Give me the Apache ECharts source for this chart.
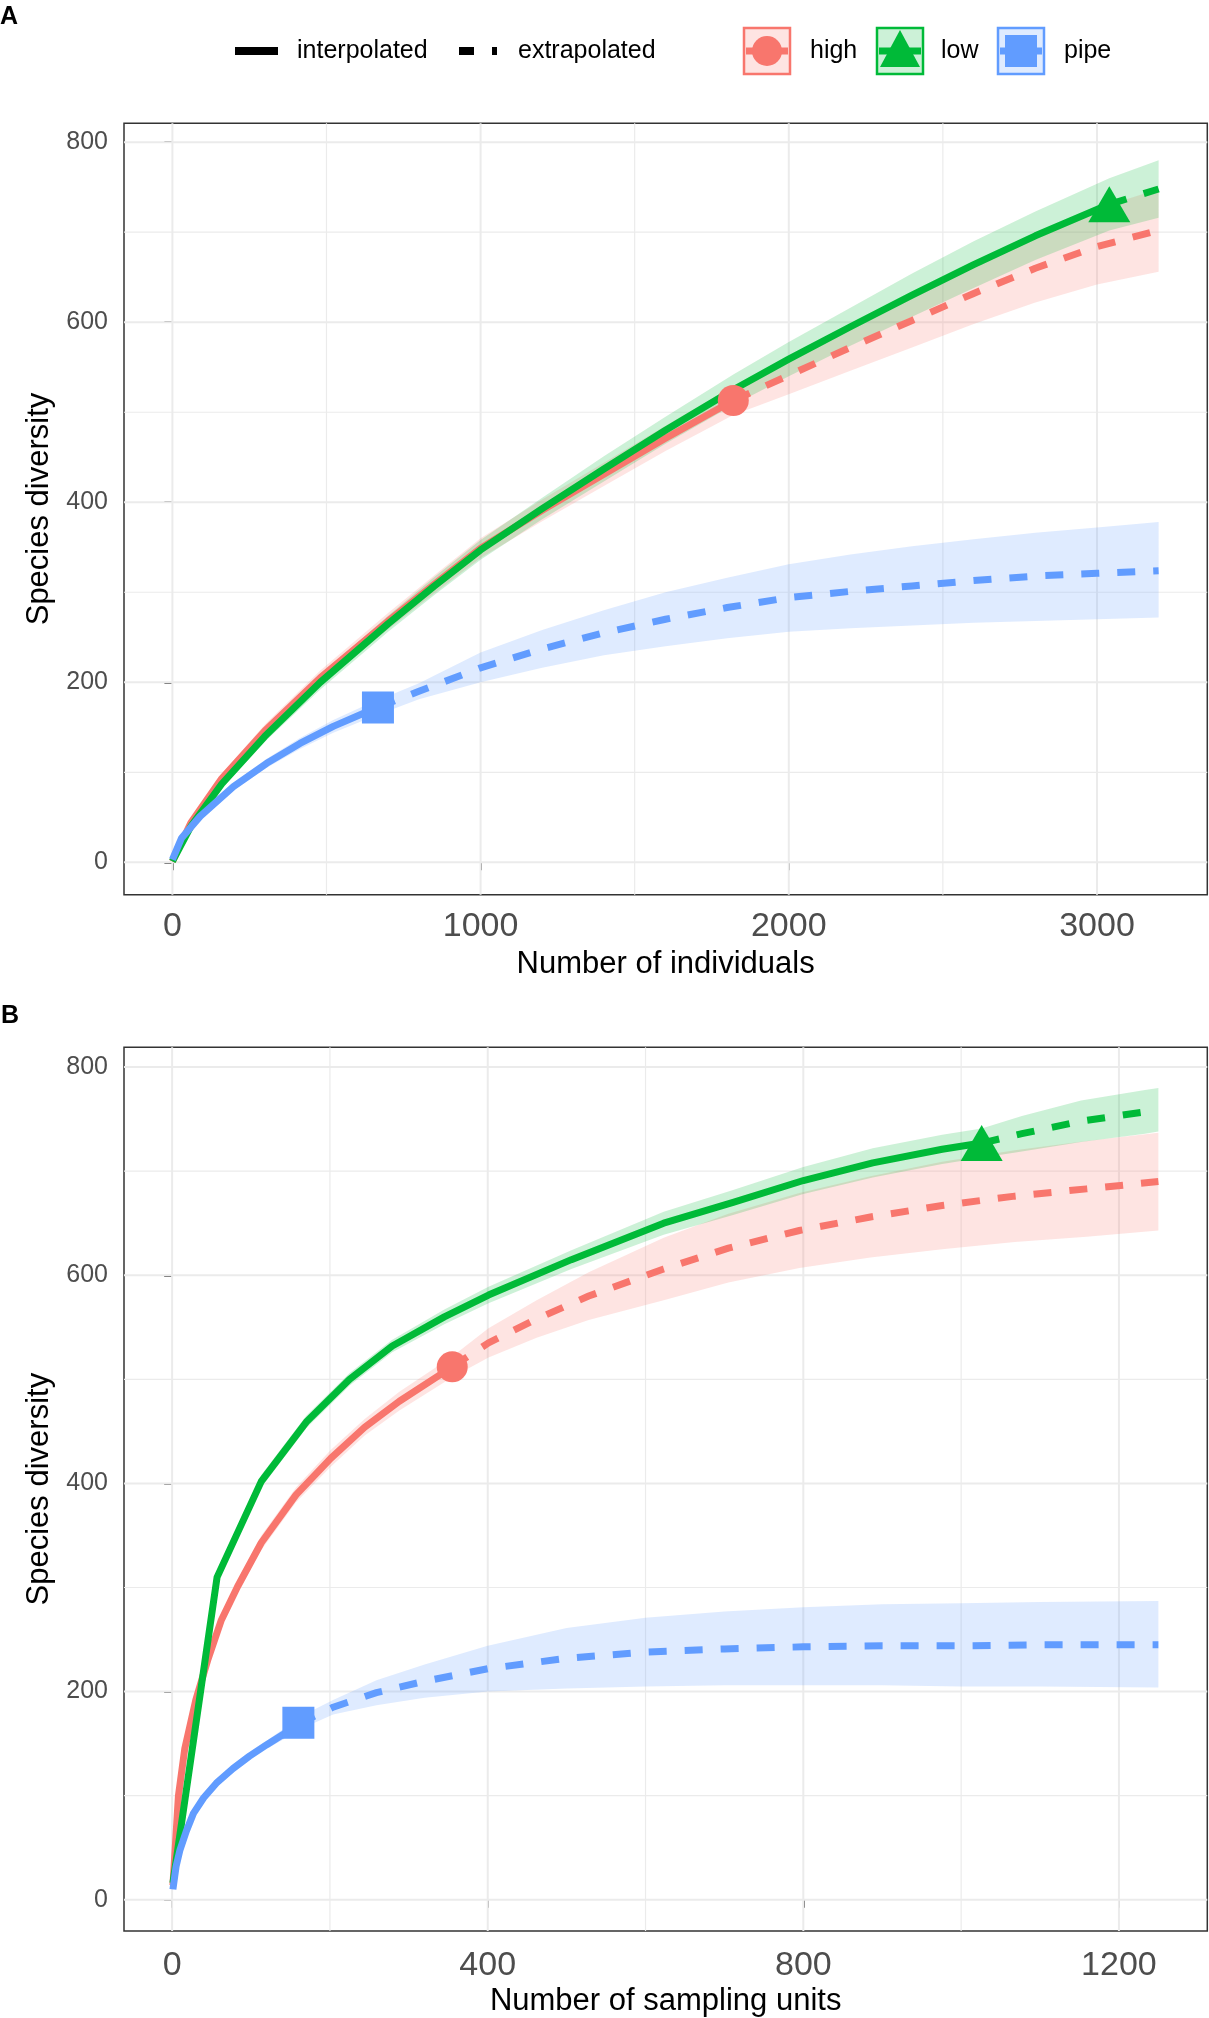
<!DOCTYPE html>
<html>
<head>
<meta charset="utf-8">
<title>Species diversity curves</title>
<script src="https://cdn.jsdelivr.net/npm/echarts@6/dist/echarts.min.js"></script>
<style>
  html, body { margin: 0; padding: 0; background: #fff; }
  #chart { width: 1209px; height: 2018px; }
</style>
</head>
<body>
<div id="chart"></div>
<script>
// tick values
let xTicksA = [0, 1000, 2000, 3000];
let xMinorA = [500, 1500, 2500];
let xTicksB = [0, 400, 800, 1200];
let xMinorB = [200, 600, 1000];
let yTicks = [0, 200, 400, 600, 800];
let yMinor = [100, 300, 500, 700];

// panel A - number of individuals
let highInterpA = [[0,1],[60,44],[160,93],[300,146],[480,205],[700,268],[850,309],[1000,349],[1200,391],[1400,431],[1600,471],[1820,513]];
let highExtrapA = [[1820,513],[2000,541],[2200,572],[2400,602],[2600,632],[2800,660],[3000,684],[3200,702]];
let highBandXA = [0,60,160,300,480,700,850,1000,1200,1400,1600,1820,2000,2200,2400,2600,2800,3000,3200];
let highLoA = [1,41,88,139,197,259,299,338,379,418,457,497,520,546,572,598,622,642,656];
let highHiA = [1,47,98,153,213,277,319,360,403,444,485,529,562,598,632,666,698,726,748];

let lowInterpA = [[0,1],[60,40],[160,87],[300,140],[480,200],[700,265],[850,307],[1000,347],[1200,393],[1400,437],[1600,480],[1820,525],[2000,559],[2200,595],[2400,630],[2600,664],[2800,696],[3040,731]];
let lowExtrapA = [[3040,731],[3200,748]];
let lowBandXA = [0,60,160,300,480,700,850,1000,1200,1400,1600,1820,2000,2200,2400,2600,2800,3040,3200];
let lowLoA = [1,37,82,134,192,256,297,336,381,423,465,508,540,574,606,638,669,702,716];
let lowHiA = [1,43,92,146,208,274,317,358,405,451,495,542,578,616,654,690,723,760,780];

let pipeInterpA = [[0,3],[30,27],[90,51],[198,84],[306,110],[414,132],[522,151],[630,167],[667,172]];
let pipeExtrapA = [[667,172],[800,190],[1000,216],[1200,237],[1400,255],[1600,270],[1800,283],[2000,294],[2200,301],[2400,307],[2600,313],[2800,318],[3000,321],[3200,324]];
let pipeBandXA = [0,30,90,198,306,414,522,630,667,800,1000,1200,1400,1600,1800,2000,2200,2400,2600,2800,3000,3200];
let pipeLoA = [3,25,48,80,105,126,144,159,164,181,200,216,230,240,249,256,260,263,266,268,270,272];
let pipeHiA = [3,29,54,88,115,138,158,175,180,199,233,258,280,300,316,331,342,351,359,366,372,378];

let highRefA = [[1820,513]];
let lowRefA = [[3040,731]];
let pipeRefA = [[667,172]];

// panel B - number of sampling units
let highInterpB = [[1,14],[8,100],[16,145],[30,192],[45,230],[62,268],[83,301],[113,343],[157,389],[201,424],[244,454],[288,479],[355,512]];
let highExtrapB = [[355,512],[401,535],[462,558],[528,580],[623,606],[705,626],[795,643],[885,656],[976,667],[1068,676],[1159,683],[1250,690]];
let highBandXB = [1,8,16,30,45,62,83,113,157,201,244,288,355,401,462,528,623,705,795,885,976,1068,1159,1250];
let highLoB = [14,97,141,187,225,262,295,336,382,416,446,470,502,521,540,557,576,593,607,617,625,632,637,643];
let highHiB = [14,103,149,197,235,274,307,350,396,432,462,488,522,549,576,603,636,659,679,695,709,720,729,737];

let lowInterpB = [[1,16],[57,310],[113,402],[170,459],[225,500],[279,532],[345,560],[401,581],[506,615],[623,650],[711,670],[800,691],[888,708],[976,721],[1026,727]];
let lowExtrapB = [[1026,727],[1077,736],[1152,748],[1233,757],[1250,759]];
let lowBandXB = [1,57,113,170,225,279,345,401,506,623,711,800,888,976,1026,1077,1152,1233,1250];
let lowLoB = [15,304,396,453,494,526,553,573,606,639,658,678,694,707,713,719,728,736,738];
let lowHiB = [17,316,408,465,506,538,567,589,624,661,682,704,722,735,741,753,768,778,780];

let pipeInterpB = [[1,10],[5,32],[10,48],[18,66],[27,83],[40,98],[56,112],[77,126],[98,138],[120,149],[141,159],[160,169]];
let pipeExtrapB = [[160,169],[204,185],[259,199],[320,210],[400,222],[500,232],[600,238],[700,241],[800,243],[900,244],[1000,244],[1100,245],[1250,245]];
let pipeBandXB = [1,5,10,18,27,40,56,77,98,120,141,160,204,259,320,400,500,600,700,800,900,1000,1100,1250];
let pipeLoB = [9,30,46,63,80,95,109,122,134,145,154,163,178,187,194,200,203,205,206,206,206,205,205,204];
let pipeHiB = [11,34,50,69,86,101,115,130,142,153,164,175,192,211,226,244,261,271,277,281,284,285,286,287];

let highRefB = [[355,512]];
let lowRefB = [[1026,727]];
let pipeRefB = [[160,170]];

const RED = '#F8766D', GREEN = '#00BA38', BLUE = '#619CFF';
const RED_F = 'rgba(248,118,109,0.2)', GREEN_F = 'rgba(0,186,56,0.2)', BLUE_F = 'rgba(97,156,255,0.2)';
const FONT = '"Liberation Sans", Arial, Helvetica, sans-serif';

// axis limits (ggplot expanded ranges)
const limA = {x: [-157, 3358], y: [-36, 821]};
const limB = {x: [-61, 1312], y: [-30, 819]};

function gridLines(vals, dir, idx, lo, hi, width) {
    return vals.map(function (v) {
        return {
            type: 'line', xAxisIndex: idx, yAxisIndex: idx, silent: true, z: 1,
            symbol: 'none', animation: false,
            lineStyle: {color: '#ebebeb', width: width},
            data: dir === 'v' ? [[v, lo], [v, hi]] : [[lo, v], [hi, v]]
        };
    });
}

function curve(data, color, dashed, idx) {
    return {
        type: 'line', xAxisIndex: idx, yAxisIndex: idx, z: 2, silent: true,
        symbol: 'none', animation: false, data: data,
        lineStyle: {color: color, width: 7, type: dashed ? [18, 18] : 'solid', cap: 'butt', join: 'round'}
    };
}

function band(xs, lo, hi, color, idx) {
    return {
        type: 'custom', xAxisIndex: idx, yAxisIndex: idx, z: 2, silent: true, animation: false,
        data: xs.map(function (x, i) { return [x, lo[i], hi[i]]; }),
        encode: {x: 0, y: [1, 2]},
        renderItem: function (params, api) {
            if (params.dataIndex !== 0) return null;
            let pts = [];
            for (let i = 0; i < xs.length; i++) pts.push(api.coord([xs[i], hi[i]]));
            for (let i = xs.length - 1; i >= 0; i--) pts.push(api.coord([xs[i], lo[i]]));
            return {type: 'polygon', shape: {points: pts}, style: {fill: color}};
        }
    };
}

function ref(data, color, symbol, size, idx) {
    return {
        type: 'scatter', xAxisIndex: idx, yAxisIndex: idx, z: 2, silent: true, animation: false,
        symbol: symbol, symbolSize: size, data: data,
        itemStyle: {color: color, opacity: 1}
    };
}

function plain(v) { return String(v); }

function xAxisOf(idx, lim, ticks, name, labelMargin, nameGap) {
    return {
        gridIndex: idx, type: 'value', min: lim[0], max: lim[1],
        axisLine: {show: false}, splitLine: {show: false},
        axisTick: {show: true, customValues: ticks, length: 8, lineStyle: {color: '#333', width: 1.5}},
        axisLabel: {customValues: ticks, formatter: plain, color: '#4d4d4d', fontSize: 34, fontFamily: FONT, margin: labelMargin},
        name: name, nameLocation: 'middle', nameGap: nameGap,
        nameTextStyle: {color: '#000', fontSize: 31, fontFamily: FONT}
    };
}

function yAxisOf(idx, lim) {
    return {
        gridIndex: idx, type: 'value', min: lim[0], max: lim[1],
        axisLine: {show: false}, splitLine: {show: false},
        axisTick: {show: true, customValues: yTicks, length: 8, lineStyle: {color: '#333', width: 1.5}},
        axisLabel: {customValues: yTicks, formatter: plain, color: '#4d4d4d', fontSize: 25, fontFamily: FONT, margin: 16},
        name: 'Species diversity', nameLocation: 'middle', nameGap: 56, nameRotate: 90,
        nameTextStyle: {color: '#000', fontSize: 31, fontFamily: FONT}
    };
}

// legend keys
function keyBox(cx, cy, color, fill, shape) {
    let items = [
        {type: 'rect', shape: {x: cx - 23, y: cy - 23, width: 46, height: 46}, style: {fill: fill, stroke: color, lineWidth: 2.5}},
        {type: 'line', shape: {x1: cx - 21, y1: cy, x2: cx + 21, y2: cy}, style: {stroke: color, lineWidth: 7}}
    ];
    if (shape === 'circle') items.push({type: 'circle', shape: {cx: cx, cy: cy, r: 15}, style: {fill: color}});
    if (shape === 'triangle') items.push({type: 'polygon', shape: {points: [[cx, cy - 21], [cx - 20, cy + 16], [cx + 20, cy + 16]]}, style: {fill: color}});
    if (shape === 'rect') items.push({type: 'rect', shape: {x: cx - 16, y: cy - 16, width: 32, height: 32}, style: {fill: color}});
    return items;
}

function label(x, y, txt, size, bold) {
    return {
        type: 'text', x: x, y: y,
        style: {text: txt, fill: '#000', font: (bold ? 'bold ' : '') + size + 'px ' + FONT, textVerticalAlign: 'middle', textAlign: 'left'}
    };
}

let legendY = 51;
let graphics = [
    label(0, 17, 'A', 25, true),
    label(1, 1016, 'B', 25, true),
    {type: 'line', shape: {x1: 235, y1: legendY, x2: 278, y2: legendY}, style: {stroke: '#000', lineWidth: 8}},
    label(297, legendY, 'interpolated', 25, false),
    {type: 'line', shape: {x1: 459, y1: legendY, x2: 497, y2: legendY}, style: {stroke: '#000', lineWidth: 8, lineDash: [15, 18]}},
    label(518, legendY, 'extrapolated', 25, false),
    label(810, legendY, 'high', 25, false),
    label(941, legendY, 'low', 25, false),
    label(1064, legendY, 'pipe', 25, false)
].concat(keyBox(767, legendY, RED, RED_F, 'circle'))
 .concat(keyBox(900, legendY, GREEN, GREEN_F, 'triangle'))
 .concat(keyBox(1021, legendY, BLUE, BLUE_F, 'rect'));

let series = [].concat(
    gridLines(xMinorA, 'v', 0, limA.y[0], limA.y[1], 1.2),
    gridLines(yMinor, 'h', 0, limA.x[0], limA.x[1], 1.2),
    gridLines(xTicksA, 'v', 0, limA.y[0], limA.y[1], 2),
    gridLines(yTicks, 'h', 0, limA.x[0], limA.x[1], 2),
    gridLines(xMinorB, 'v', 1, limB.y[0], limB.y[1], 1.2),
    gridLines(yMinor, 'h', 1, limB.x[0], limB.x[1], 1.2),
    gridLines(xTicksB, 'v', 1, limB.y[0], limB.y[1], 2),
    gridLines(yTicks, 'h', 1, limB.x[0], limB.x[1], 2),
    [
        ref(highRefA, RED, 'circle', 31, 0),
        ref(lowRefA, GREEN, 'triangle', [42, 36], 0),
        ref(pipeRefA, BLUE, 'rect', 32, 0),
        curve(highInterpA, RED, false, 0),
        curve(highExtrapA, RED, true, 0),
        curve(lowInterpA, GREEN, false, 0),
        curve(lowExtrapA, GREEN, true, 0),
        curve(pipeInterpA, BLUE, false, 0),
        curve(pipeExtrapA, BLUE, true, 0),
        band(highBandXA, highLoA, highHiA, RED_F, 0),
        band(lowBandXA, lowLoA, lowHiA, GREEN_F, 0),
        band(pipeBandXA, pipeLoA, pipeHiA, BLUE_F, 0),

        ref(highRefB, RED, 'circle', 31, 1),
        ref(lowRefB, GREEN, 'triangle', [42, 36], 1),
        ref(pipeRefB, BLUE, 'rect', 32, 1),
        curve(highInterpB, RED, false, 1),
        curve(highExtrapB, RED, true, 1),
        curve(lowInterpB, GREEN, false, 1),
        curve(lowExtrapB, GREEN, true, 1),
        curve(pipeInterpB, BLUE, false, 1),
        curve(pipeExtrapB, BLUE, true, 1),
        band(highBandXB, highLoB, highHiB, RED_F, 1),
        band(lowBandXB, lowLoB, lowHiB, GREEN_F, 1),
        band(pipeBandXB, pipeLoB, pipeHiB, BLUE_F, 1)
    ]
);

let myChart = echarts.init(document.getElementById('chart'), null, {renderer: 'canvas'});
let option = {
    backgroundColor: '#fff',
    animation: false,
    textStyle: {fontFamily: FONT},
    grid: [
        {left: 124, top: 123.3, width: 1083.3, height: 771.4, show: true, borderColor: '#333', borderWidth: 1.5, backgroundColor: '#fff'},
        {left: 124, top: 1047.3, width: 1083.3, height: 885, show: true, borderColor: '#333', borderWidth: 1.5, backgroundColor: '#fff'}
    ],
    xAxis: [
        xAxisOf(0, limA.x, xTicksA, 'Number of individuals', 15, 54),
        xAxisOf(1, limB.x, xTicksB, 'Number of sampling units', 18, 55)
    ],
    yAxis: [yAxisOf(0, limA.y), yAxisOf(1, limB.y)],
    graphic: graphics,
    series: series
};
myChart.setOption(option);
</script>
</body>
</html>
